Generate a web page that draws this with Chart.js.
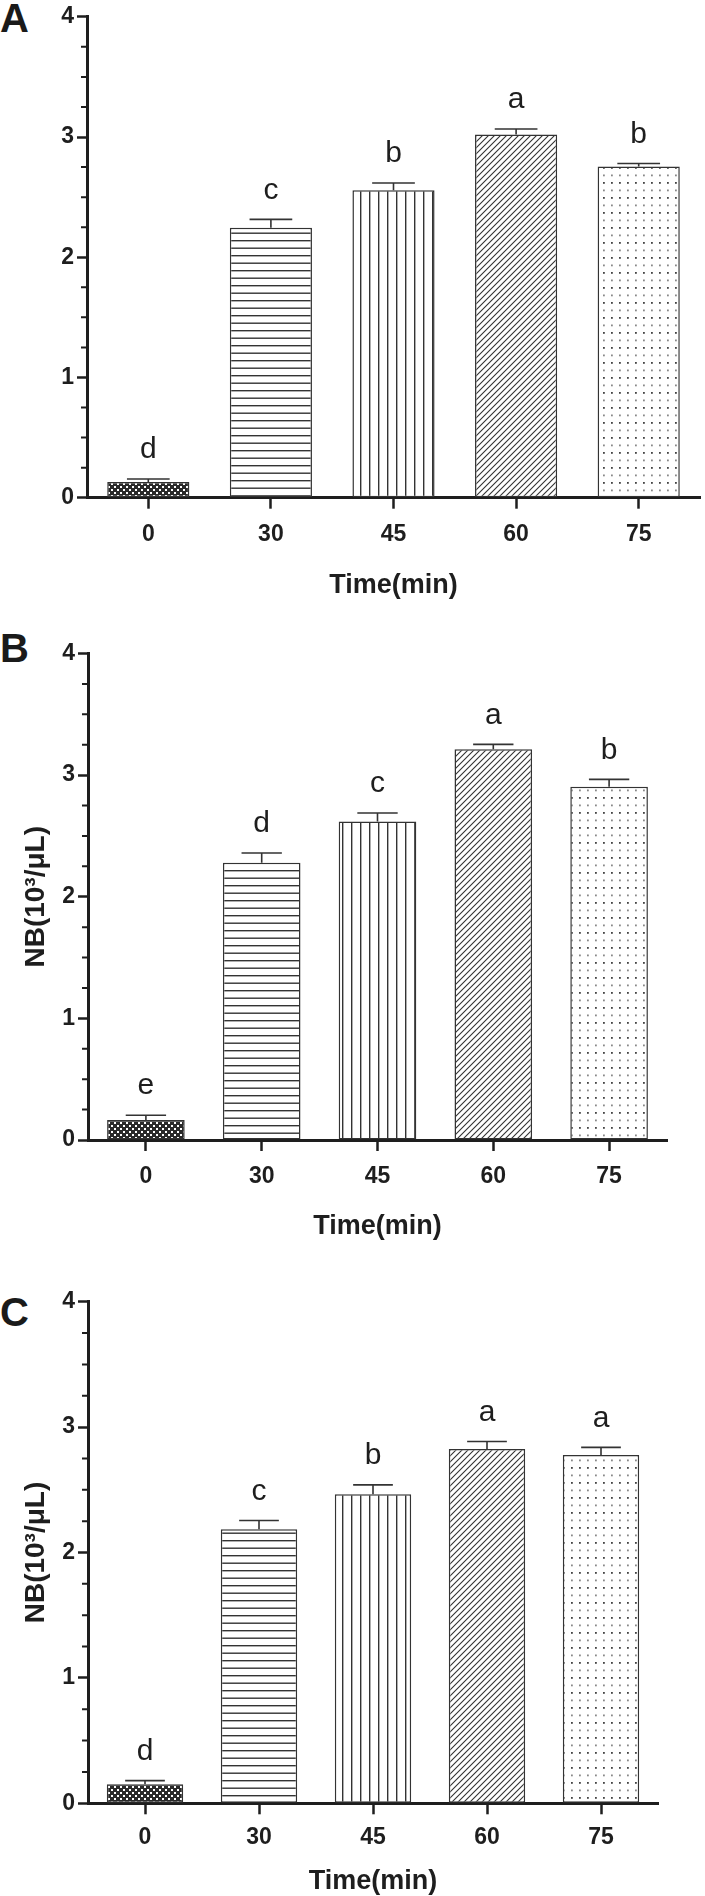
<!DOCTYPE html>
<html>
<head>
<meta charset="utf-8">
<script src="https://cdn.jsdelivr.net/npm/chart.js@4.4.0/dist/chart.umd.min.js"></script>
<style>
  body { margin: 0; background: #fff; width: 705px; height: 1896px; position: relative; overflow: hidden;
         font-family: "Liberation Sans", Arial, sans-serif; }
  .panel { position: absolute; left: 0; width: 705px; }
  .tag { position: absolute; left: 0; font-weight: bold; font-size: 40px; line-height: 1; color: #1a1a1a; }
</style>
</head>
<body>
<div class="tag" style="top:-2px">A</div>
<div class="tag" style="top:628px">B</div>
<div class="tag" style="top:1292px">C</div>
<div class="panel" style="top:0;height:620px"><canvas id="chartA"></canvas></div>
<div class="panel" style="top:630px;height:630px"><canvas id="chartB"></canvas></div>
<div class="panel" style="top:1270px;height:626px"><canvas id="chartC"></canvas></div>
<script>
const times = ['0', '30', '45', '60', '75'];

const meanA = [0.13, 2.245, 2.557, 3.022, 2.755];
const errA = [0.025, 0.07, 0.06, 0.045, 0.025];
const lettersA = ['d', 'c', 'b', 'a', 'b'];

const meanB = [0.164, 2.28, 2.618, 3.213, 2.905];
const errB = [0.04, 0.08, 0.07, 0.04, 0.06];
const lettersB = ['e', 'd', 'c', 'a', 'b'];

const meanC = [0.151, 2.185, 2.464, 2.825, 2.778];
const errC = [0.03, 0.07, 0.075, 0.06, 0.06];
const lettersC = ['d', 'c', 'b', 'a', 'a'];

const yTitle = 'NB(10\u00B3/\u03BCL)';
const xTitle = 'Time(min)';

const ink = '#1e1e1e';
const FONT = '"Liberation Sans", Arial, sans-serif';

// fill patterns for the five bars
function tile(w, h, bg, draw) {
    const c = document.createElement('canvas');
    c.width = w; c.height = h;
    const g = c.getContext('2d');
    g.fillStyle = bg;
    g.fillRect(0, 0, w, h);
    draw(g);
    return g.createPattern(c, 'repeat');
}

function makePatterns() {
    const checker = tile(6, 6, '#2a2a2a', g => {
        g.fillStyle = '#fff';
        g.fillRect(0, 0, 2, 2);
        g.fillRect(3, 3, 2, 2);
    });
    const hlines = tile(4, 15, '#fff', g => {
        g.fillStyle = '#333';
        g.fillRect(0, 0, 4, 1.4);
        g.fillRect(0, 7.5, 4, 1.4);
    });
    const vlines = tile(9, 4, '#fff', g => {
        g.fillStyle = '#333';
        g.fillRect(0, 0, 1.4, 4);
    });
    const diag = tile(6, 6, '#fff', g => {
        g.strokeStyle = '#333';
        g.lineWidth = 1.1;
        g.beginPath();
        g.moveTo(0, 6); g.lineTo(6, 0);
        g.moveTo(-1, 1); g.lineTo(1, -1);
        g.moveTo(5, 7); g.lineTo(7, 5);
        g.stroke();
    });
    const dots = tile(8, 15, '#fff', g => {
        g.fillStyle = '#444';
        g.fillRect(3, 2, 1.8, 1.8);
        g.fillStyle = '#888';
        g.fillRect(3, 9.5, 1.8, 1.8);
    });
    return [checker, hlines, vlines, diag, dots];
}

// error bars, significance letters and minor y ticks
const annotate = {
    id: 'annotate',
    afterDatasetsDraw(chart, args, opts) {
        const {ctx, chartArea} = chart;
        const y = chart.scales.y;
        const meta = chart.getDatasetMeta(0);
        ctx.save();
        ctx.strokeStyle = '#333';
        ctx.lineWidth = 1.6;
        meta.data.forEach((bar, i) => {
            const top = y.getPixelForValue(opts.means[i] + opts.errs[i]);
            const half = bar.width * 0.26;
            ctx.beginPath();
            ctx.moveTo(bar.x, bar.y);
            ctx.lineTo(bar.x, top);
            ctx.moveTo(bar.x - half, top);
            ctx.lineTo(bar.x + half, top);
            ctx.stroke();
            ctx.fillStyle = ink;
            ctx.font = '30px ' + FONT;
            ctx.textAlign = 'center';
            ctx.textBaseline = 'middle';
            ctx.fillText(opts.letters[i], bar.x, top - 29);
        });
        ctx.strokeStyle = ink;
        ctx.lineWidth = 2;
        ctx.beginPath();
        for (let v = 0.25; v < 4; v += 0.25) {
            if (Math.abs(v - Math.round(v)) < 1e-6) continue;
            const py = y.getPixelForValue(v);
            ctx.moveTo(chartArea.left - 6, py);
            ctx.lineTo(chartArea.left, py);
        }
        ctx.stroke();
        ctx.restore();
    }
};

function drawPanel(id, means, errs, letters, lay) {
    new Chart(document.getElementById(id), {
        type: 'bar',
        data: {
            labels: times,
            datasets: [{
                data: means,
                backgroundColor: makePatterns(),
                borderColor: '#333',
                borderWidth: 1.5,
                borderSkipped: false,
                categoryPercentage: 1,
                barPercentage: 0.67
            }]
        },
        plugins: [annotate],
        options: {
            responsive: true,
            maintainAspectRatio: false,
            animation: false,
            events: [],
            layout: {padding: {left: 0, top: lay.top, right: lay.right, bottom: 0}},
            plugins: {
                legend: {display: false},
                tooltip: {enabled: false},
                annotate: {means: means, errs: errs, letters: letters}
            },
            scales: {
                x: {
                    afterFit: s => { s.height = lay.xHeight; },
                    grid: {display: true, drawOnChartArea: false, drawTicks: true, offset: false,
                           tickLength: 11, tickWidth: 2.5, tickColor: ink},
                    border: {display: true, width: 3, color: ink},
                    ticks: {color: ink, padding: lay.xPad, font: {family: FONT, size: 23, weight: 'bold'}},
                    title: {display: true, text: xTitle, color: ink,
                            font: {family: FONT, size: 27, weight: 'bold', lineHeight: 1},
                            padding: {top: 0, bottom: lay.titlePad}}
                },
                y: {
                    min: 0,
                    max: 4,
                    afterFit: s => { s.width = lay.yWidth; },
                    grid: {display: true, drawOnChartArea: false, drawTicks: true,
                           tickLength: 10, tickWidth: 2.5, tickColor: ink},
                    border: {display: true, width: 3, color: ink},
                    ticks: {stepSize: 1, color: ink, padding: 3,
                            font: {family: FONT, size: 23, weight: 'bold'}},
                    title: {display: lay.yTitle, text: yTitle, color: ink,
                            font: {family: FONT, size: 28, weight: 'bold', lineHeight: 1},
                            padding: {top: 22, bottom: 0}}
                }
            }
        }
    });
}

drawPanel('chartA', meanA, errA, lettersA,
    {top: 15, right: 5, xHeight: 122.3, xPad: 12.5, titlePad: 20.5, yWidth: 87, yTitle: false});
drawPanel('chartB', meanB, errB, lettersB,
    {top: 23.5, right: 38, xHeight: 120, xPad: 12, titlePad: 19.8, yWidth: 88, yTitle: true});
drawPanel('chartC', meanC, errC, lettersC,
    {top: 31.7, right: 47, xHeight: 92.7, xPad: 10, titlePad: 0.8, yWidth: 88, yTitle: true});
</script>
</body>
</html>
